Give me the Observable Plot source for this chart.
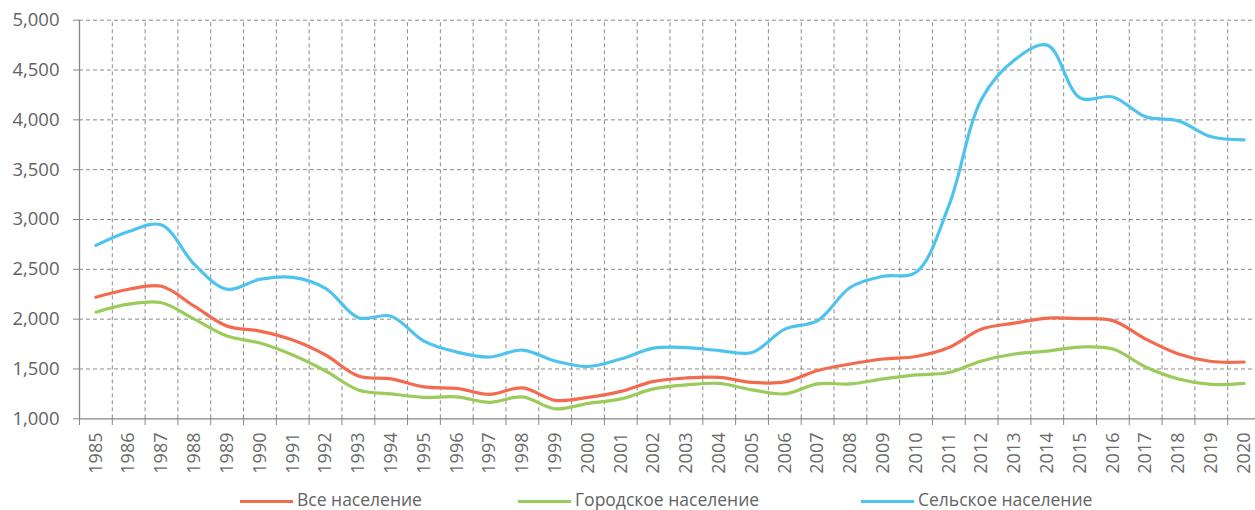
<!DOCTYPE html>
<html>
<head>
<meta charset="utf-8">
<script src="https://cdn.jsdelivr.net/npm/d3@7"></script>
<script src="https://cdn.jsdelivr.net/npm/@observablehq/plot@0.6"></script>
<style>
  html, body { margin: 0; padding: 0; background: #fff; overflow: hidden; }
  #wrap { position: relative; width: 1255px; height: 510px; }
  #legend { position: absolute; left: 0; top: 484px; width: 1255px; height: 26px; font-family: "Open Sans", sans-serif; font-size: 17.5px; color: #636363; }
  .item { position: absolute; top: 0; height: 26px; }
  .sw { position: absolute; top: 16px; height: 3px; width: 53px; }
  .lbl { position: absolute; left: 57px; top: 2px; white-space: nowrap; line-height: 26px; }
</style>
</head>
<body>
<div id="wrap">
  <div id="chart"></div>
  <div id="legend"></div>
</div>
<script>
const years = [1985,1986,1987,1988,1989,1990,1991,1992,1993,1994,1995,1996,1997,1998,1999,2000,2001,2002,2003,2004,2005,2006,2007,2008,2009,2010,2011,2012,2013,2014,2015,2016,2017,2018,2019,2020];
const allPop = [2220,2300,2330,2130,1930,1880,1790,1640,1430,1400,1320,1305,1245,1310,1185,1215,1275,1375,1410,1415,1365,1370,1485,1550,1600,1625,1715,1900,1960,2010,2005,1985,1800,1650,1575,1570];
const urbanPop = [2070,2150,2165,2000,1830,1760,1640,1480,1290,1250,1215,1220,1165,1220,1100,1155,1200,1300,1340,1355,1290,1250,1350,1350,1400,1440,1465,1580,1650,1680,1720,1700,1520,1400,1345,1355];
const ruralPop = [2740,2880,2945,2550,2300,2400,2420,2310,2015,2030,1780,1670,1620,1690,1580,1525,1600,1710,1715,1685,1665,1900,1985,2320,2430,2470,3140,4210,4600,4750,4220,4230,4030,3990,3830,3800];
const seriesNames = ["Все население", "Городское население", "Сельское население"];
const seriesColors = ["#F26B4F", "#9BCB5A", "#4DC3EE"];
const yTicks = [1000,1500,2000,2500,3000,3500,4000,4500,5000];

const seriesValues = [allPop, urbanPop, ruralPop];
const table = [];
seriesNames.forEach((name, s) => {
  years.forEach((yr, i) => table.push({series: name, year: yr, value: seriesValues[s][i]}));
});
const bounds = d3.range(years.length + 1).map(i => years[0] - 0.5 + i);
const innerBounds = bounds.slice(1);

const font = "'Open Sans', sans-serif";
const chart = Plot.plot({
  width: 1255,
  height: 482,
  marginLeft: 79,
  marginRight: 0,
  marginTop: 20,
  marginBottom: 64,
  style: {fontFamily: font, fontSize: "18.5px", color: "#636363", background: "#fff"},
  x: {domain: [bounds[0], bounds[bounds.length - 1]], range: [79, 1260]},
  y: {domain: [1000, 5000], range: [418.3, 19.7]},
  color: {domain: seriesNames, range: seriesColors},
  marks: [
    Plot.gridY(yTicks.slice(1), {stroke: "#8a8a8a", strokeOpacity: 1, strokeWidth: 1, strokeDasharray: "4,3"}),
    Plot.ruleX(innerBounds, {y1: 1000, y2: 5000, stroke: "#8a8a8a", strokeWidth: 1, strokeDasharray: "4,3"}),
    Plot.axisY({ticks: yTicks, tickFormat: d3.format(","), tickSize: 6, tickPadding: 14, stroke: "#868686", fill: "#636363", label: null}),
    Plot.axisX({ticks: bounds, tickFormat: () => "", tickSize: 7, stroke: "#868686", label: null}),
    Plot.axisX({ticks: years, tickFormat: d => String(d), tickSize: 0, tickRotate: -90, tickPadding: 14, fontSize: 18, fill: "#6a6a6a", label: null}),
    Plot.ruleX([bounds[0]], {y1: 1000, y2: 5000, stroke: "#868686", strokeWidth: 1.3}),
    Plot.ruleY([1000], {stroke: "#868686", strokeWidth: 1.3}),
    Plot.line(table, {x: "year", y: "value", z: "series", stroke: "series", strokeWidth: 3.2, curve: "catmull-rom"})
  ]
});
document.getElementById("chart").appendChild(chart);

const legendPos = [240, 518, 861];
const legend = document.getElementById("legend");
seriesNames.forEach((name, i) => {
  const item = document.createElement("div");
  item.className = "item";
  item.style.left = legendPos[i] + "px";
  const sw = document.createElement("div");
  sw.className = "sw";
  sw.style.background = seriesColors[i];
  const lbl = document.createElement("div");
  lbl.className = "lbl";
  lbl.textContent = name;
  item.appendChild(sw);
  item.appendChild(lbl);
  legend.appendChild(item);
});
</script>
</body>
</html>
